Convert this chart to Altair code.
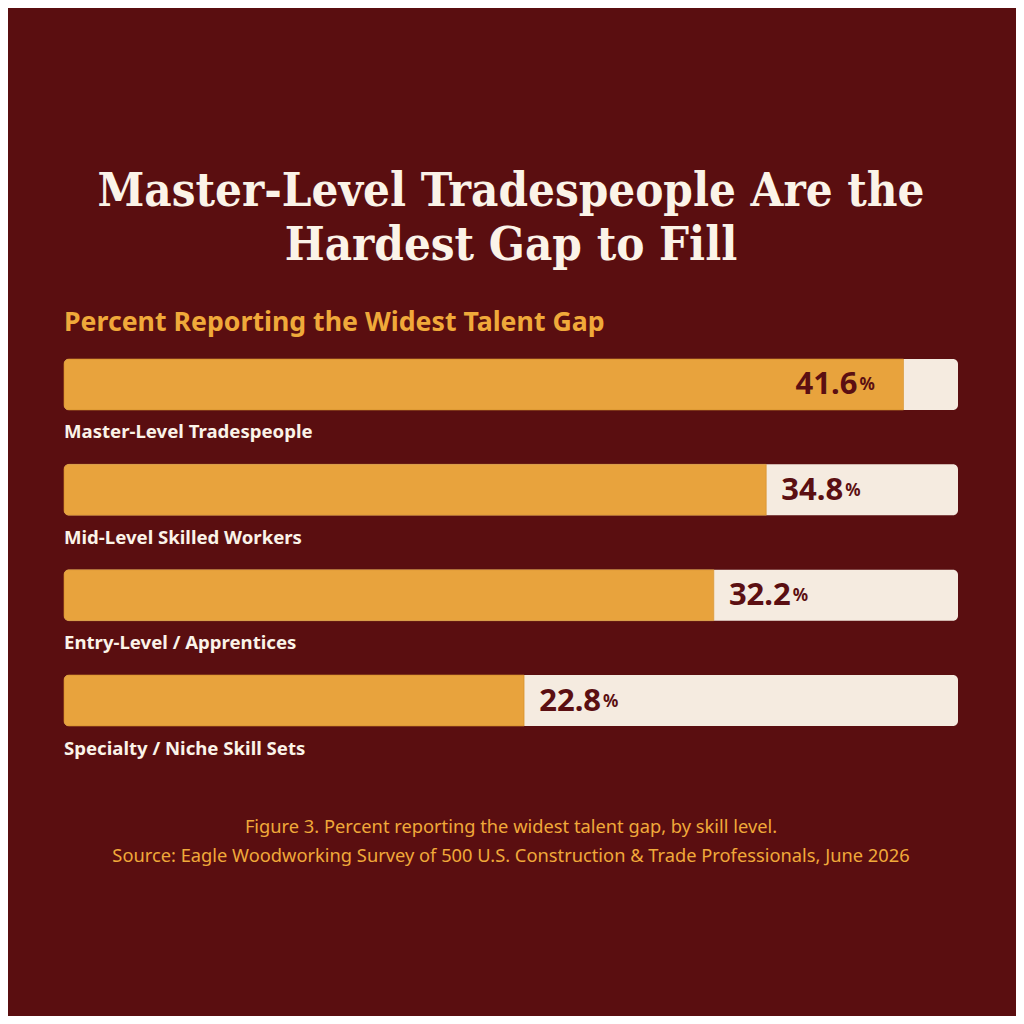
import pandas as pd
import altair as alt

categories = [
    "Master-Level Tradespeople",
    "Mid-Level Skilled Workers",
    "Entry-Level / Apprentices",
    "Specialty / Niche Skill Sets",
]
values = [41.6, 34.8, 32.2, 22.8]
SCALE_MAX = 44.3

title_lines = ["Master-Level Tradespeople Are the", "Hardest Gap to Fill"]
subtitle = "Percent Reporting the Widest Talent Gap"
caption_lines = [
    "Figure 3. Percent reporting the widest talent gap, by skill level.",
    "Source: Eagle Woodworking Survey of 500 U.S. Construction & Trade Professionals, June 2026",
]

BG = "#5a0e10"
FILL = "#e8a33d"
TRACK = "#f5ebe0"
DARK = "#5b0f12"
ORANGE = "#f0a93a"
CREAM = "#fbf3e8"
SANS = "Noto Sans"
SERIF = "DejaVu Serif Condensed, DejaVu Serif"

df = pd.DataFrame({"category": categories, "value": values})

W, H = 894, 367

x_scale = alt.Scale(domain=[0, SCALE_MAX], nice=False, zero=True)
y_enc = alt.Y("category:N", sort=categories, axis=None,
              scale=alt.Scale(paddingInner=0.516, paddingOuter=0, align=0))

base = alt.Chart(df)

track = base.mark_bar(color=TRACK, cornerRadius=5).transform_calculate(
    zero="0", full=str(SCALE_MAX)
).encode(
    x=alt.X("zero:Q", scale=x_scale, axis=None),
    x2="full:Q",
    y=y_enc,
)

fill = base.mark_bar(
    color=FILL, cornerRadiusTopLeft=5, cornerRadiusBottomLeft=5,
    stroke="#d99530", strokeWidth=0.6
).encode(
    x=alt.X("value:Q", scale=x_scale, axis=None),
    y=y_enc,
)

num_style = dict(font=SANS, fontWeight="bold", fontSize=31, color=DARK, baseline="middle")
pct_style = dict(font=SANS, fontWeight="bold", fontSize=17, color=DARK, baseline="middle")

inside = alt.datum.value >= 40
outside = alt.datum.value < 40

num_in = base.transform_filter(inside).mark_text(align="right", dx=-46, dy=1, **num_style).encode(
    x=alt.X("value:Q", scale=x_scale), y=y_enc, text=alt.Text("value:Q", format=".1f"))
pct_in = base.transform_filter(inside).mark_text(align="left", dx=-44, dy=1, **pct_style).encode(
    x=alt.X("value:Q", scale=x_scale), y=y_enc, text=alt.value("%"))
num_out = base.transform_filter(outside).mark_text(align="right", dx=77, dy=1, **num_style).encode(
    x=alt.X("value:Q", scale=x_scale), y=y_enc, text=alt.Text("value:Q", format=".1f"))
pct_out = base.transform_filter(outside).mark_text(align="left", dx=79, dy=1, **pct_style).encode(
    x=alt.X("value:Q", scale=x_scale), y=y_enc, text=alt.value("%"))

cat_labels = base.mark_text(
    align="left", baseline="middle", dy=48, font=SANS, fontWeight="bold",
    fontSize=18.6, color=CREAM
).encode(x=alt.value(0), y=y_enc, text="category:N")

one = alt.Data(values=[{}])

title1 = alt.Chart(one).mark_text(
    font=SERIF, fontWeight="bold", fontSize=47,
    color=CREAM, align="center", baseline="middle"
).encode(x=alt.value(W / 2), y=alt.value(-167), text=alt.value(title_lines[0]))
title2 = alt.Chart(one).mark_text(
    font=SERIF, fontWeight="bold", fontSize=47,
    color=CREAM, align="center", baseline="middle"
).encode(x=alt.value(W / 2), y=alt.value(-113), text=alt.value(title_lines[1]))

sub = alt.Chart(one).mark_text(
    font=SANS, fontWeight="bold", fontSize=26.7, color=ORANGE,
    align="left", baseline="middle"
).encode(x=alt.value(0), y=alt.value(-36), text=alt.value(subtitle))

cap1 = alt.Chart(one).mark_text(
    font=SANS, fontSize=18.3, color=ORANGE, align="center", baseline="middle"
).encode(x=alt.value(W / 2), y=alt.value(469), text=alt.value(caption_lines[0]))
cap2 = alt.Chart(one).mark_text(
    font=SANS, fontSize=18.3, color=ORANGE, align="center", baseline="middle"
).encode(x=alt.value(W / 2), y=alt.value(498), text=alt.value(caption_lines[1]))

chart = alt.layer(
    track, fill, num_in, pct_in, num_out, pct_out, cat_labels,
    title1, title2, sub, cap1, cap2
).properties(
    width=W, height=H,
    background=BG,
    padding={"left": 56, "top": 351, "right": 58, "bottom": 290},
    autosize=alt.AutoSizeParams(type="none"),
).configure_view(stroke=None)

chart.save("out.html", embed_options={"renderer": "svg", "actions": False})
